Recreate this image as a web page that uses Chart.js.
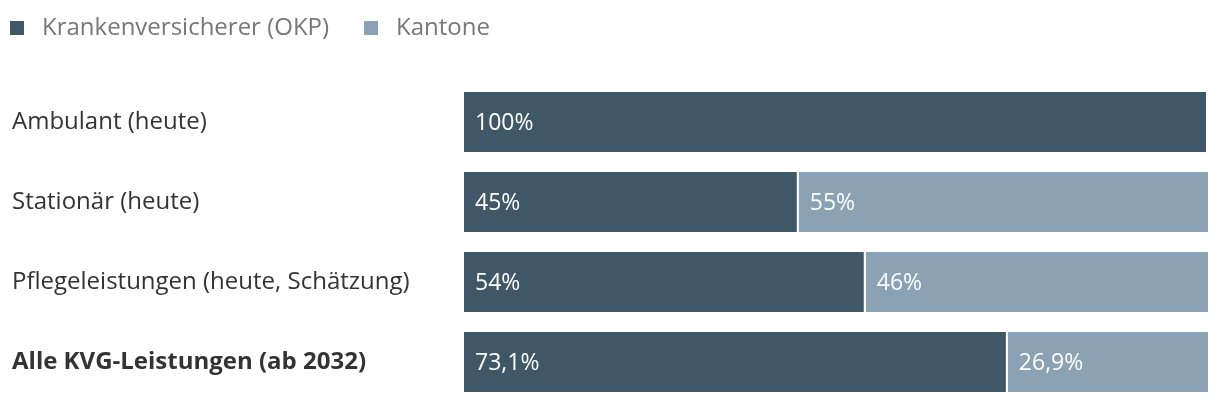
<!DOCTYPE html>
<html lang="de">
<head>
    <meta charset="UTF-8">
    <title>Kostenaufteilung KVG</title>
    <script src="https://cdn.jsdelivr.net/npm/chart.js"></script>
    <style>
        body { margin: 0; background: #fff; }
    </style>
</head>
<body>
    <canvas id="shareChart" width="1220" height="404"></canvas>
    <script>
        const categories = ['Ambulant (heute)', 'Stationär (heute)', 'Pflegeleistungen (heute, Schätzung)', 'Alle KVG-Leistungen (ab 2032)'];
        const insurers = [100, 45, 54, 73.1];
        const cantons = [0, 55, 46, 26.9];
        const seriesNames = ['Krankenversicherer (OKP)', 'Kantone'];
        const colors = ['#405768', '#8ba2b5'];

        const FONT = "'Open Sans', 'Noto Sans', sans-serif";

        const fmt = v => String(v).replace('.', ',') + '%';

        // little square legend marker, drawn on the left of a 20px wide slot
        function marker(color) {
            const c = document.createElement('canvas');
            c.width = 20;
            c.height = 14;
            const g = c.getContext('2d');
            g.fillStyle = color;
            g.fillRect(0, 0, 14, 14);
            return c;
        }

        // value labels inside the bars, left aligned
        const barLabels = {
            id: 'barLabels',
            afterDatasetsDraw(chart) {
                const ctx = chart.ctx;
                ctx.save();
                ctx.font = '23px ' + FONT;
                ctx.fillStyle = '#ffffff';
                ctx.textAlign = 'left';
                ctx.textBaseline = 'middle';
                chart.data.datasets.forEach((ds, i) => {
                    chart.getDatasetMeta(i).data.forEach((bar, j) => {
                        const v = ds.data[j];
                        if (!v) return;
                        const p = bar.getProps(['x', 'y', 'base'], true);
                        ctx.fillText(fmt(v), Math.min(p.x, p.base) + 11, p.y + 1);
                    });
                });
                ctx.restore();
            }
        };

        const ctx = document.getElementById('shareChart').getContext('2d');
        new Chart(ctx, {
            type: 'bar',
            data: {
                labels: categories,
                datasets: [
                    {
                        label: seriesNames[0],
                        data: insurers,
                        backgroundColor: colors[0],
                        borderColor: '#ffffff',
                        borderWidth: { top: 0, right: 2, bottom: 0, left: 0 },
                        borderSkipped: false
                    },
                    {
                        label: seriesNames[1],
                        data: cantons,
                        backgroundColor: colors[1],
                        borderWidth: 0
                    }
                ]
            },
            options: {
                indexAxis: 'y',
                responsive: false,
                animation: false,
                barPercentage: 0.75,
                categoryPercentage: 1,
                layout: { padding: { top: 6, right: 12, bottom: 2, left: 0 } },
                plugins: {
                    tooltip: { enabled: false },
                    legend: {
                        position: 'top',
                        align: 'start',
                        labels: {
                            usePointStyle: true,
                            pointStyleWidth: 20,
                            padding: 10,
                            color: '#777777',
                            font: { family: FONT, size: 24 },
                            generateLabels(chart) {
                                return chart.data.datasets.map((ds, i) => ({
                                    // trailing spaces widen the gap to the next item
                                    text: i === 0 ? ds.label + '    ' : ds.label,
                                    pointStyle: marker(colors[i]),
                                    fillStyle: colors[i],
                                    strokeStyle: colors[i],
                                    lineWidth: 0,
                                    fontColor: '#777777',
                                    datasetIndex: i
                                }));
                            }
                        }
                    }
                },
                scales: {
                    x: {
                        stacked: true,
                        position: 'top',
                        min: 0,
                        max: 100,
                        grid: { display: false },
                        border: { display: false },
                        ticks: { display: false },
                        afterFit(scale) { scale.height = 32; }
                    },
                    y: {
                        stacked: true,
                        grid: { display: false },
                        border: { display: false },
                        ticks: {
                            crossAlign: 'far',
                            padding: 0,
                            color: '#333333',
                            font: ctx => ({
                                family: FONT,
                                size: 24,
                                lineHeight: 0.1,
                                weight: ctx.index === 3 ? 'bold' : 'normal'
                            })
                        },
                        afterFit(scale) { scale.width = 452; }
                    },
                    // empty spacer so the category labels start a little right of the legend
                    pad: {
                        axis: 'y',
                        type: 'linear',
                        position: 'left',
                        weight: 10,
                        grid: { display: false },
                        border: { display: false },
                        ticks: { display: false },
                        afterFit(scale) { scale.width = 12; }
                    }
                }
            },
            plugins: [barLabels]
        });
    </script>
</body>
</html>
